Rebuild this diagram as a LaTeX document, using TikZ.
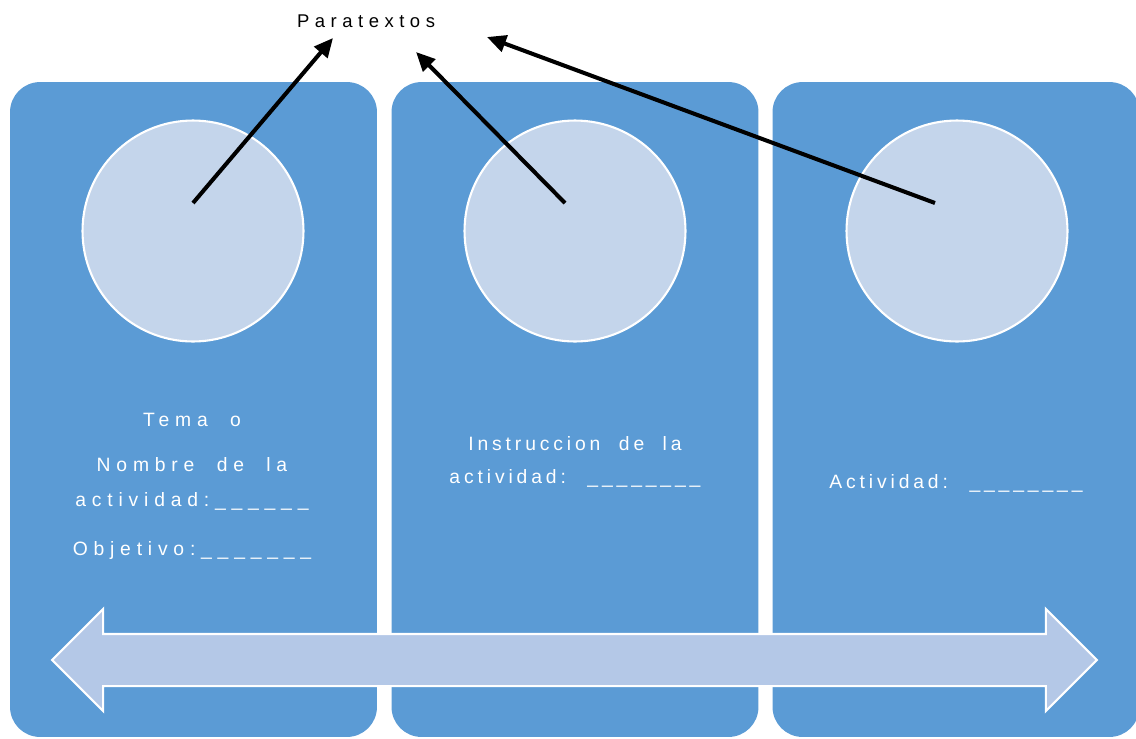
\documentclass[tikz,border=0pt]{standalone}
\usepackage{fontspec}
\setmainfont{Liberation Sans}
\newfontfamily\spaced[LetterSpace=30,WordSpace=2]{Liberation Sans}
\newfontfamily\spacedtight[LetterSpace=20,WordSpace=2]{Liberation Sans}
\usetikzlibrary{arrows.meta,shapes.arrows}
\definecolor{panelblue}{RGB}{91,155,213}
\definecolor{circblue}{RGB}{196,213,235}
\definecolor{barblue}{RGB}{180,200,231}

\begin{document}
\begin{tikzpicture}[
    x=0.02cm, y=-0.02cm,
    panel/.style={rectangle, rounded corners=0.6cm, fill=panelblue, minimum width=7.34cm, minimum height=13.1cm},
    disc/.style={circle, fill=circblue, draw=white, line width=1.2pt, minimum size=4.42cm},
    label/.style={text=white, align=center, font=\spaced\fontsize{11}{20.1}\selectfont},
    labeltight/.style={text=white, align=center, font=\spacedtight\fontsize{11}{19}\selectfont},
    arrow/.style={-{Triangle[length=0.38cm, width=0.34cm]}, line width=2.3pt}
  ]
    \useasboundingbox (0,0) rectangle (1136,738);

    \node[panel] (left) at (193.5,409.5) {};
    \node[panel] (mid) at (575,409.5) {};
    \node[panel] (right) at (956,409.5) {};

    \node[disc] (c1) at (193,231) {};
    \node[disc] (c2) at (575,231) {};
    \node[disc] (c3) at (957,231) {};

    \node[double arrow, fill=barblue, draw=white, line width=1.2pt, inner xsep=0pt, inner ysep=0.5cm,
          minimum height=20.9cm, double arrow head extend=0.5cm,
          double arrow tip angle=90] (bar) at (574.5,660) {};

    \node[font=\spaced\fontsize{10.5}{12}\selectfont] (para) at (366,21) {Paratextos};

    \node[label] (t1) at (192,486.5) {Tema o\\[5.5pt]Nombre de la\\actividad:\_\_\_\_\_\_\\[8pt]Objetivo:\_\_\_\_\_\_\_};
    \node[labeltight] (t2) at (575,462) {Instruccion de la\\actividad: \_\_\_\_\_\_\_\_};
    \node[labeltight] (t3) at (956,483) {Actividad: \_\_\_\_\_\_\_\_};

    \coordinate (p1) at (333,38);
    \coordinate (p2) at (416,52);
    \coordinate (p3) at (487,37);

    \draw[arrow] ([yshift=0.56cm]c1.center) -- (p1);
    \draw[arrow] ([xshift=-0.2cm,yshift=0.56cm]c2.center) -- (p2);
    \draw[arrow] ([xshift=-0.44cm,yshift=0.56cm]c3.center) -- (p3);
\end{tikzpicture}
\end{document}
